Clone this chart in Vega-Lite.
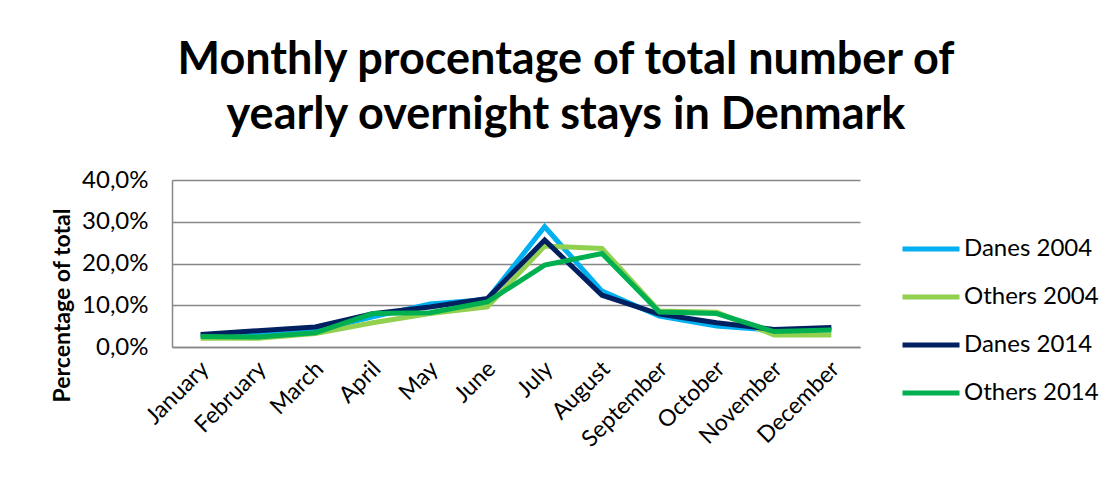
{
  "$schema": "https://vega.github.io/schema/vega-lite/v6.json",
  "width": 688,
  "height": 167,
  "autosize": "none",
  "padding": {"left": 172, "top": 180, "right": 260, "bottom": 136},
  "background": "white",
  "config": {
    "font": "Lato",
    "view": {"stroke": null}
  },
  "title": {
    "text": ["Monthly procentage of total number of", "yearly overnight stays in Denmark"],
    "font": "Lato",
    "fontSize": 45,
    "fontWeight": "bold",
    "color": "#000000",
    "anchor": "middle",
    "lineHeight": 55,
    "offset": 30,
    "dx": 50
  },
  "data": {
    "values": [
      {"month": "January", "series": "Danes 2004", "share": 0.028},
      {"month": "February", "series": "Danes 2004", "share": 0.029},
      {"month": "March", "series": "Danes 2004", "share": 0.038},
      {"month": "April", "series": "Danes 2004", "share": 0.072},
      {"month": "May", "series": "Danes 2004", "share": 0.103},
      {"month": "June", "series": "Danes 2004", "share": 0.114},
      {"month": "July", "series": "Danes 2004", "share": 0.288},
      {"month": "August", "series": "Danes 2004", "share": 0.134},
      {"month": "September", "series": "Danes 2004", "share": 0.074},
      {"month": "October", "series": "Danes 2004", "share": 0.050},
      {"month": "November", "series": "Danes 2004", "share": 0.040},
      {"month": "December", "series": "Danes 2004", "share": 0.043},
      {"month": "January", "series": "Others 2004", "share": 0.021},
      {"month": "February", "series": "Others 2004", "share": 0.021},
      {"month": "March", "series": "Others 2004", "share": 0.032},
      {"month": "April", "series": "Others 2004", "share": 0.058},
      {"month": "May", "series": "Others 2004", "share": 0.080},
      {"month": "June", "series": "Others 2004", "share": 0.096},
      {"month": "July", "series": "Others 2004", "share": 0.242},
      {"month": "August", "series": "Others 2004", "share": 0.236},
      {"month": "September", "series": "Others 2004", "share": 0.086},
      {"month": "October", "series": "Others 2004", "share": 0.083},
      {"month": "November", "series": "Others 2004", "share": 0.029},
      {"month": "December", "series": "Others 2004", "share": 0.029},
      {"month": "January", "series": "Danes 2014", "share": 0.030},
      {"month": "February", "series": "Danes 2014", "share": 0.039},
      {"month": "March", "series": "Danes 2014", "share": 0.048},
      {"month": "April", "series": "Danes 2014", "share": 0.080},
      {"month": "May", "series": "Danes 2014", "share": 0.096},
      {"month": "June", "series": "Danes 2014", "share": 0.116},
      {"month": "July", "series": "Danes 2014", "share": 0.256},
      {"month": "August", "series": "Danes 2014", "share": 0.124},
      {"month": "September", "series": "Danes 2014", "share": 0.079},
      {"month": "October", "series": "Danes 2014", "share": 0.058},
      {"month": "November", "series": "Danes 2014", "share": 0.042},
      {"month": "December", "series": "Danes 2014", "share": 0.047},
      {"month": "January", "series": "Others 2014", "share": 0.025},
      {"month": "February", "series": "Others 2014", "share": 0.024},
      {"month": "March", "series": "Others 2014", "share": 0.034},
      {"month": "April", "series": "Others 2014", "share": 0.080},
      {"month": "May", "series": "Others 2014", "share": 0.082},
      {"month": "June", "series": "Others 2014", "share": 0.108},
      {"month": "July", "series": "Others 2014", "share": 0.196},
      {"month": "August", "series": "Others 2014", "share": 0.224},
      {"month": "September", "series": "Others 2014", "share": 0.084},
      {"month": "October", "series": "Others 2014", "share": 0.080},
      {"month": "November", "series": "Others 2014", "share": 0.037},
      {"month": "December", "series": "Others 2014", "share": 0.041}
    ]
  },
  "mark": {"type": "line", "strokeWidth": 5, "strokeJoin": "miter", "strokeCap": "butt"},
  "encoding": {
    "x": {
      "field": "month",
      "type": "ordinal",
      "sort": ["January", "February", "March", "April", "May", "June", "July", "August", "September", "October", "November", "December"],
      "scale": {"type": "point", "padding": 0.5},
      "axis": {
        "title": null,
        "labelAngle": -45,
        "labelAlign": "right",
        "labelBaseline": "middle",
        "labelFont": "Lato",
        "labelFontSize": 23,
        "labelColor": "#000000",
        "labelPadding": 18,
        "labelOffset": 4,
        "ticks": false,
        "domainColor": "#878787",
        "domainWidth": 1.5,
        "grid": false
      }
    },
    "y": {
      "field": "share",
      "type": "quantitative",
      "scale": {"domain": [0, 0.4], "nice": false},
      "axis": {
        "values": [0, 0.1, 0.2, 0.3, 0.4],
        "labelExpr": "replace(format(datum.value, '.1%'), '.', ',')",
        "labelFont": "Lato",
        "labelFontSize": 24,
        "labelColor": "#000000",
        "labelPadding": 24,
        "ticks": false,
        "domainColor": "#878787",
        "domainWidth": 1.5,
        "gridColor": "#878787",
        "gridWidth": 1.5,
        "title": "Percentage of total",
        "titleFont": "Lato",
        "titleFontSize": 23,
        "titleFontWeight": "bold",
        "titleColor": "#000000",
        "titleAngle": -90,
        "titleAlign": "center",
        "titleBaseline": "middle",
        "titleX": -110,
        "titleY": 125
      }
    },
    "color": {
      "field": "series",
      "type": "nominal",
      "sort": ["Danes 2004", "Others 2004", "Danes 2014", "Others 2014"],
      "scale": {
        "domain": ["Danes 2004", "Others 2004", "Danes 2014", "Others 2014"],
        "range": ["#00B0F0", "#92D050", "#002060", "#00B050"]
      },
      "legend": {
        "title": null,
        "orient": "none",
        "legendX": 728,
        "legendY": 38,
        "symbolType": "stroke",
        "symbolSize": 3249,
        "symbolStrokeWidth": 5,
        "labelFont": "Lato",
        "labelFontSize": 24,
        "labelColor": "#000000",
        "labelOffset": 2,
        "rowPadding": 5
      }
    }
  }
}
